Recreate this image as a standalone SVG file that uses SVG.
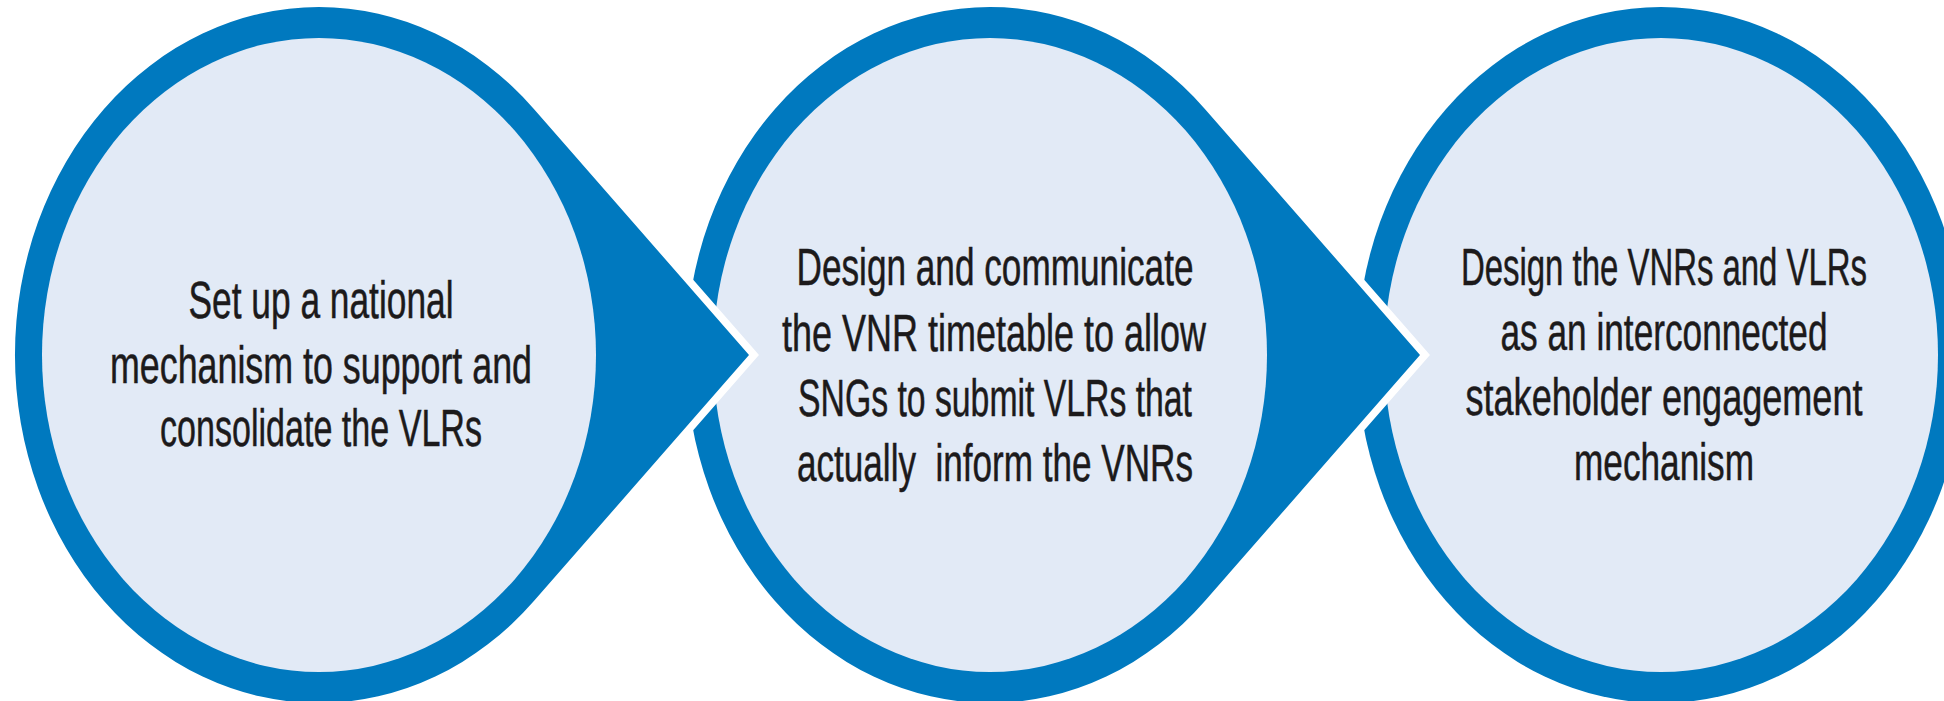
<svg xmlns="http://www.w3.org/2000/svg" width="1944" height="701" viewBox="0 0 1944 701">
  <style>
    .band { fill: #0079bf; }
    .drop { fill: #0079bf; stroke: #ffffff; stroke-width: 15; stroke-linejoin: miter; stroke-miterlimit: 10; paint-order: stroke; }
    .inner { fill: #e2eaf6; }
    .lbl { font-family: "Liberation Sans Narrow", "Liberation Sans", Arial, sans-serif; font-size: 51px; fill: #1c1a1b; stroke: #1c1a1b; stroke-width: 0.5px; text-anchor: middle; white-space: pre; }
  </style>
  <rect width="1944" height="701" fill="#ffffff"/>
  <g id="connectors"></g>
  <g id="node3">
    <ellipse class="band" cx="1661" cy="355" rx="304" ry="348"/>
    <ellipse class="inner" cx="1661" cy="355" rx="277" ry="317"/>
    <text class="lbl" x="1664" y="285" textLength="406" lengthAdjust="spacingAndGlyphs">Design the VNRs and VLRs</text>
    <text class="lbl" x="1664" y="350" textLength="327" lengthAdjust="spacingAndGlyphs">as an interconnected</text>
    <text class="lbl" x="1664" y="415" textLength="397" lengthAdjust="spacingAndGlyphs">stakeholder engagement</text>
    <text class="lbl" x="1664" y="480" textLength="180" lengthAdjust="spacingAndGlyphs">mechanism</text>
  </g>
  <g id="node2">
    <path class="drop" d="M1420 355 L1204.9 108.9 A304 348 0 1 0 1204.9 601.1 Z"/>
    <ellipse class="inner" cx="990" cy="355" rx="277" ry="317"/>
    <text class="lbl" x="995" y="285" textLength="397" lengthAdjust="spacingAndGlyphs">Design and communicate</text>
    <text class="lbl" x="994" y="351" textLength="424" lengthAdjust="spacingAndGlyphs">the VNR timetable to allow</text>
    <text class="lbl" x="995" y="416" textLength="394" lengthAdjust="spacingAndGlyphs">SNGs to submit VLRs that</text>
    <text class="lbl" x="995" y="481" textLength="396" lengthAdjust="spacingAndGlyphs">actually  inform the VNRs</text>
  </g>
  <g id="node1">
    <path class="drop" d="M749 355 L533.9 108.9 A304 348 0 1 0 533.9 601.1 Z"/>
    <ellipse class="inner" cx="319" cy="355" rx="277" ry="317"/>
    <text class="lbl" x="321" y="318" textLength="265" lengthAdjust="spacingAndGlyphs">Set up a national</text>
    <text class="lbl" x="321" y="383" textLength="422" lengthAdjust="spacingAndGlyphs">mechanism to support and</text>
    <text class="lbl" x="321" y="446" textLength="322" lengthAdjust="spacingAndGlyphs">consolidate the VLRs</text>
  </g>
</svg>
